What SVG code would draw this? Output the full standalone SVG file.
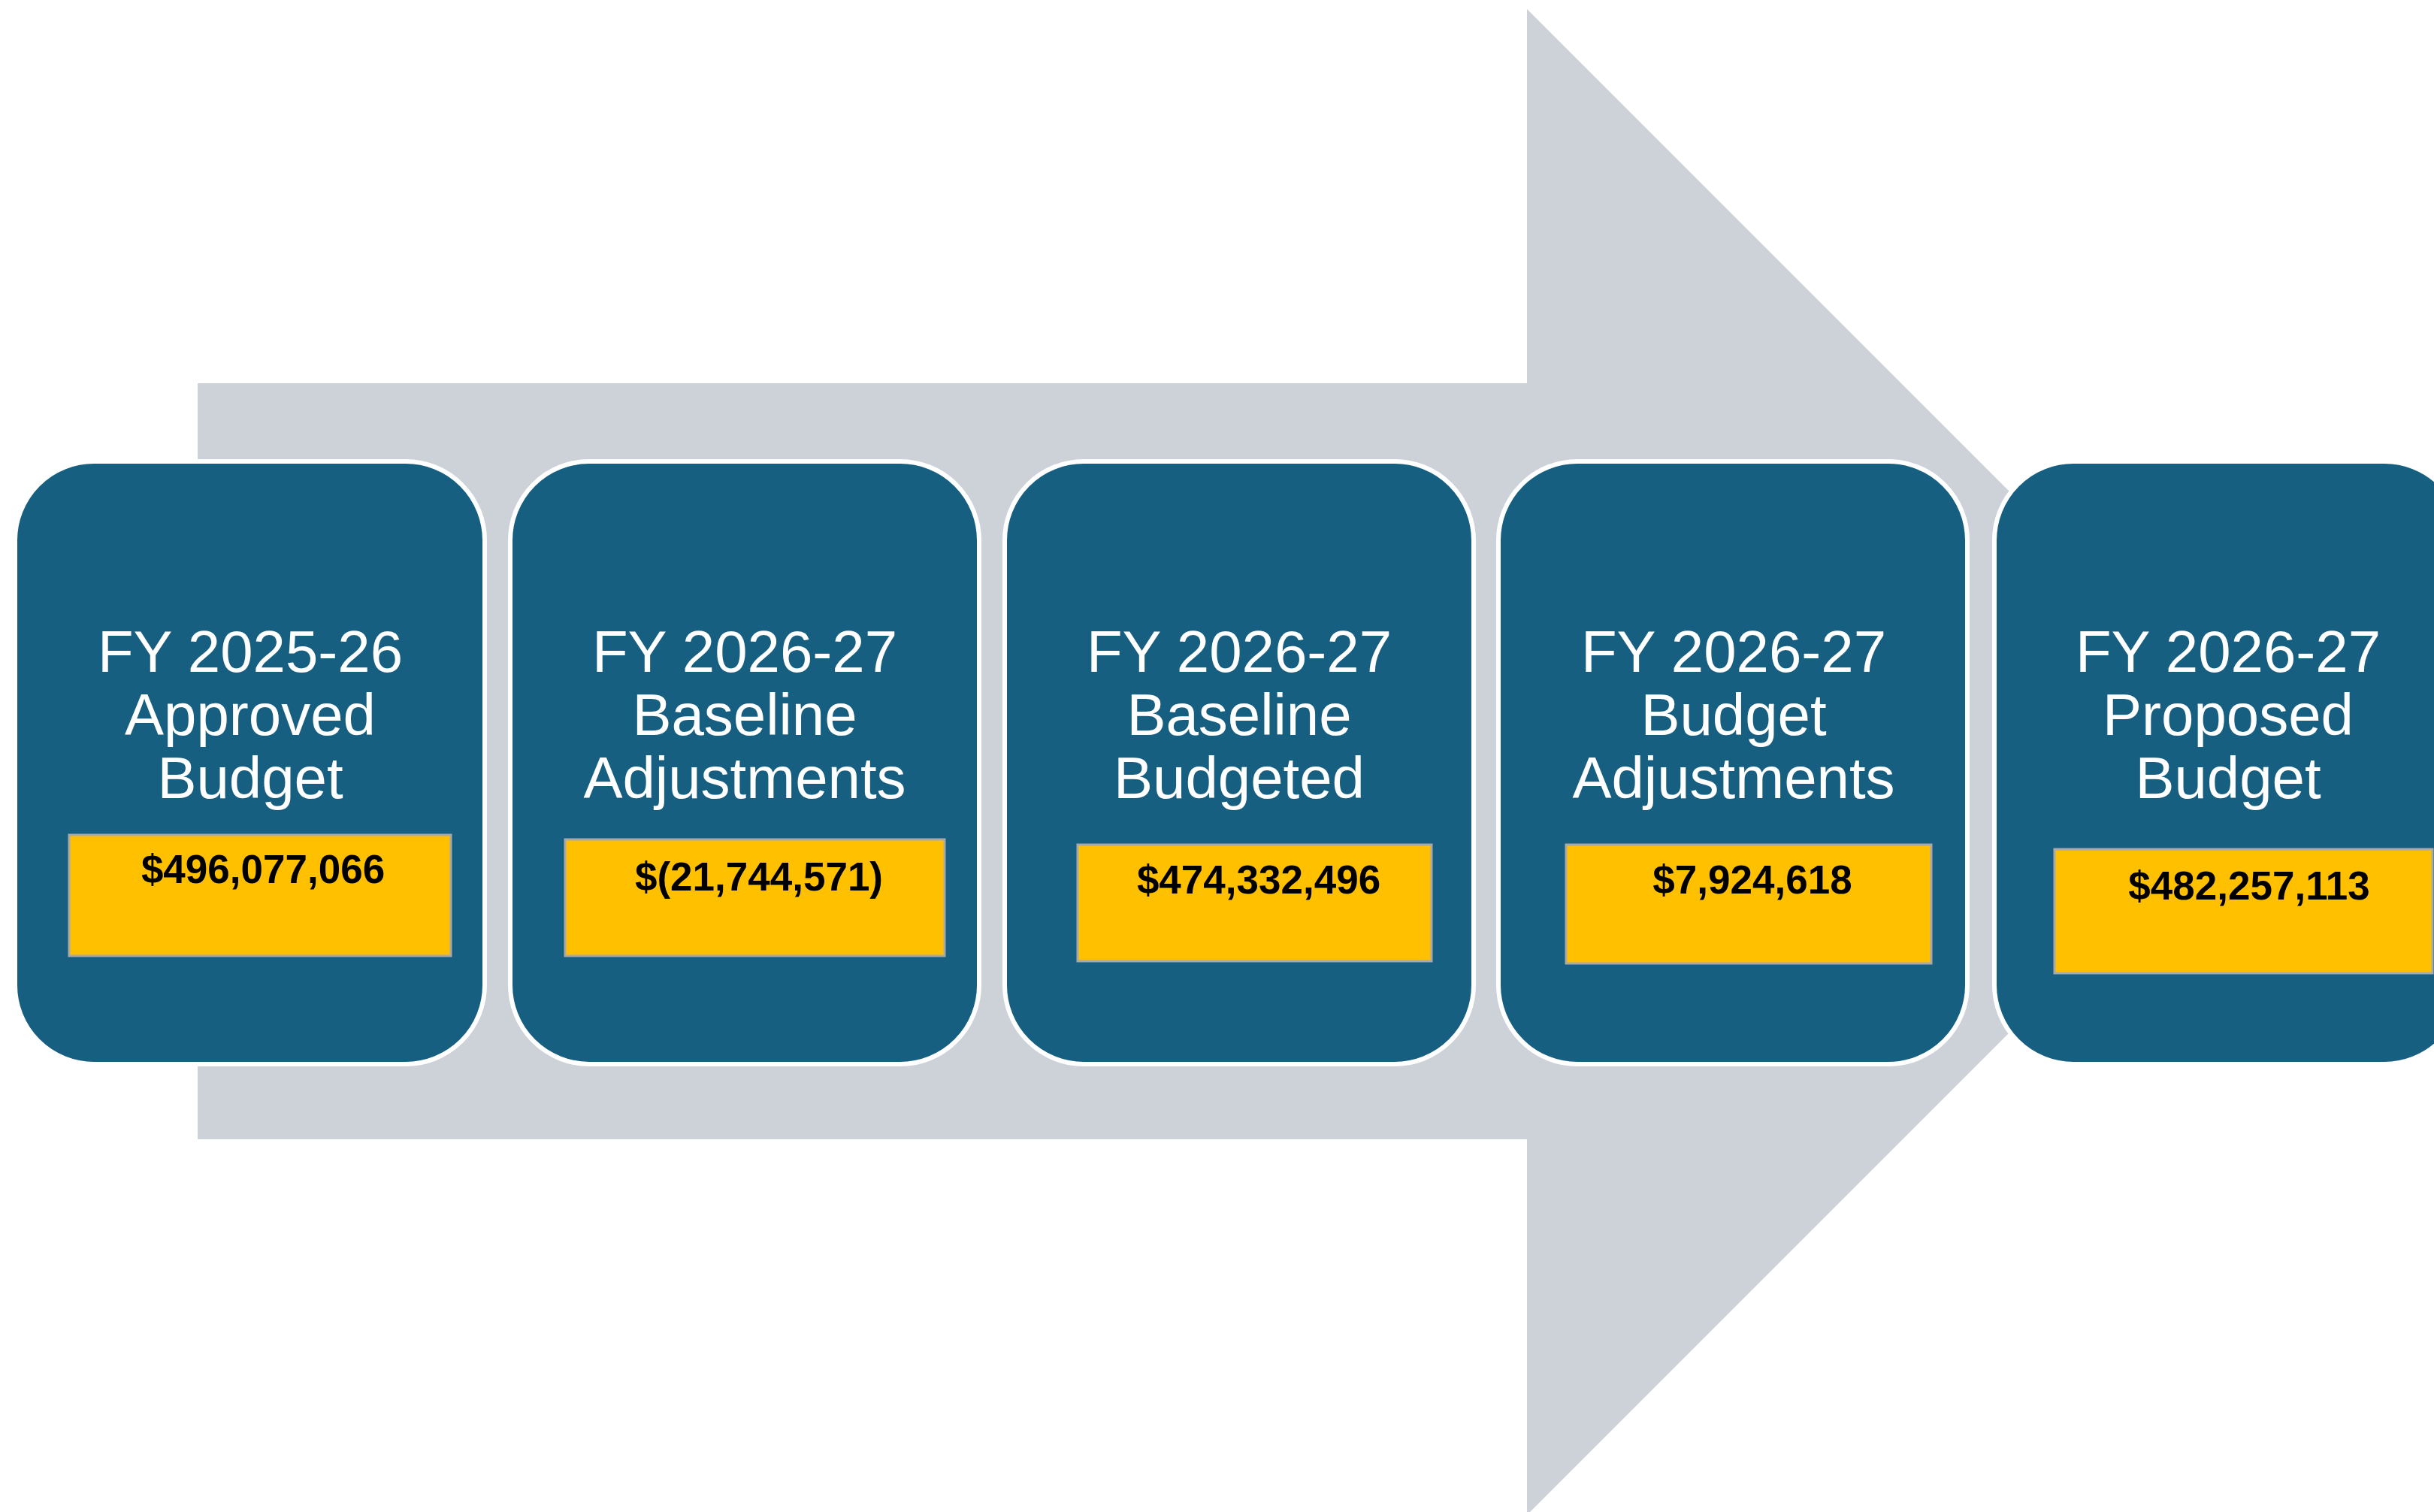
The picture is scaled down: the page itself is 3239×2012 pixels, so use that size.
<svg xmlns="http://www.w3.org/2000/svg" width="3239" height="2012" viewBox="0 0 3239 2012">
  <style>
    .bg { fill: #ffffff; }
    .arrow { fill: #CDD2D8; }
    .box { fill: #175F80; stroke: #ffffff; stroke-width: 6; }
    .amt { fill: #FFC000; stroke: #A9A9A9; stroke-width: 3; }
    .title { font-family: "Liberation Sans", Arial, sans-serif; font-size: 78px; fill: #ffffff; text-anchor: middle; }
    .num { font-family: "Liberation Sans", Arial, sans-serif; font-size: 53px; font-weight: bold; fill: #000000; text-anchor: middle; }
  </style>
  <rect class="bg" x="0" y="0" width="3239" height="2012"/>
  <g id="connectors">
    <polygon class="arrow" points="263,510 2032,510 2032,12 3034,1014 2032,2016 2032,1516 263,1516"/>
  </g>
  <g id="node1">
    <rect class="box" x="20" y="614" width="625" height="802" rx="105" ry="105"/>
    <text class="title" x="333" y="894">FY 2025-26</text>
    <text class="title" x="333" y="978">Approved</text>
    <text class="title" x="333" y="1062">Budget</text>
    <rect class="amt" x="92" y="1111" width="508" height="161"/>
    <text class="num" x="350" y="1175">$496,077,066</text>
  </g>
  <g id="node2">
    <rect class="box" x="679" y="614" width="624" height="802" rx="105" ry="105"/>
    <text class="title" x="991" y="894">FY 2026-27</text>
    <text class="title" x="991" y="978">Baseline</text>
    <text class="title" x="991" y="1062">Adjustments</text>
    <rect class="amt" x="752" y="1117" width="505" height="155"/>
    <text class="num" x="1010" y="1185">$(21,744,571)</text>
  </g>
  <g id="node3">
    <rect class="box" x="1337" y="614" width="624" height="802" rx="105" ry="105"/>
    <text class="title" x="1649" y="894">FY 2026-27</text>
    <text class="title" x="1649" y="978">Baseline</text>
    <text class="title" x="1649" y="1062">Budgeted</text>
    <rect class="amt" x="1434" y="1124" width="471" height="155"/>
    <text class="num" x="1675" y="1189">$474,332,496</text>
  </g>
  <g id="node4">
    <rect class="box" x="1994" y="614" width="624" height="802" rx="105" ry="105"/>
    <text class="title" x="2307" y="894">FY 2026-27</text>
    <text class="title" x="2307" y="978">Budget</text>
    <text class="title" x="2307" y="1062">Adjustments</text>
    <rect class="amt" x="2084" y="1124" width="486" height="158"/>
    <text class="num" x="2332" y="1189">$7,924,618</text>
  </g>
  <g id="node5">
    <rect class="box" x="2654" y="614" width="624" height="802" rx="105" ry="105"/>
    <text class="title" x="2965" y="894">FY 2026-27</text>
    <text class="title" x="2965" y="978">Proposed</text>
    <text class="title" x="2965" y="1062">Budget</text>
    <rect class="amt" x="2734" y="1130" width="503" height="165"/>
    <text class="num" x="2993" y="1197">$482,257,113</text>
  </g>
</svg>
